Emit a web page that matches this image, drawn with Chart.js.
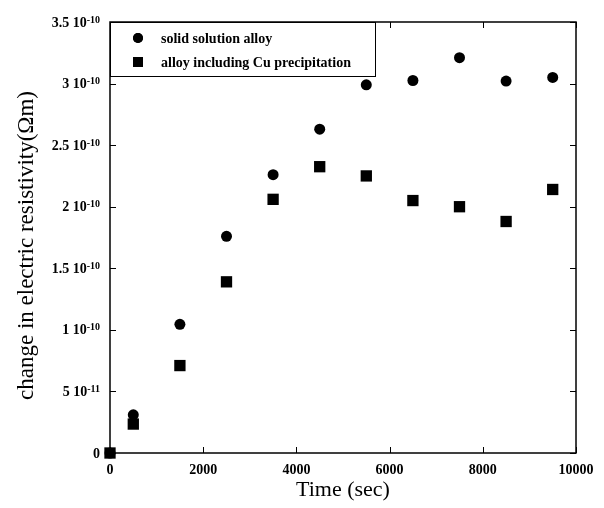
<!DOCTYPE html>
<html>
<head>
<meta charset="utf-8">
<script src="https://cdn.jsdelivr.net/npm/chart.js@4.4.1/dist/chart.umd.min.js"></script>
<style>
  html, body { margin: 0; padding: 0; background: #fff; }
</style>
</head>
<body>
<canvas id="resChart" width="604" height="508"></canvas>
<script>
// values
const timeSec = [0, 500, 1500, 2500, 3500, 4500, 5500, 6500, 7500, 8500, 9500];
const solidSolution = [0, 3.1e-11, 1.045e-10, 1.76e-10, 2.26e-10, 2.63e-10, 2.99e-10, 3.025e-10, 3.21e-10, 3.02e-10, 3.05e-10];
const cuPrecipitation = [0, 2.35e-11, 7.1e-11, 1.39e-10, 2.06e-10, 2.325e-10, 2.25e-10, 2.05e-10, 2.0e-10, 1.88e-10, 2.14e-10];
const seriesNames = ['solid solution alloy', 'alloy including Cu precipitation'];
const xTitle = 'Time (sec)';
const yTitle = 'change in electric resistivity(Ωm)';

const serif = '"Liberation Serif", "Times New Roman", serif';

// frame, inward ticks, y labels with exponents, y title, boxed legend
const framePlugin = {
    id: 'frame',
    beforeDatasetsDraw(chart) {
        const { ctx, chartArea: a, scales: { x, y } } = chart;
        ctx.save();
        ctx.strokeStyle = '#000';
        ctx.lineWidth = 1.5;
        ctx.strokeRect(a.left, a.top, a.right - a.left, a.bottom - a.top);
        ctx.lineWidth = 1;
        ctx.beginPath();
        x.ticks.forEach(t => {
            const px = Math.round(x.getPixelForValue(t.value)) + 0.5;
            ctx.moveTo(px, a.bottom); ctx.lineTo(px, a.bottom - 6);
            ctx.moveTo(px, a.top); ctx.lineTo(px, a.top + 6);
        });
        y.ticks.forEach(t => {
            const py = Math.round(y.getPixelForValue(t.value)) + 0.5;
            ctx.moveTo(a.left, py); ctx.lineTo(a.left + 6, py);
            ctx.moveTo(a.right, py); ctx.lineTo(a.right - 6, py);
        });
        ctx.stroke();
        ctx.restore();
    },
    afterDraw(chart) {
        const { ctx, chartArea: a, scales: { y } } = chart;
        ctx.save();
        ctx.fillStyle = '#000';
        const right = a.left - 10;
        y.ticks.forEach(t => {
            const py = y.getPixelForValue(t.value);
            ctx.textAlign = 'right';
            ctx.textBaseline = 'alphabetic';
            if (Math.abs(t.value) < 1e-20) {
                ctx.font = 'bold 14px ' + serif;
                ctx.fillText('0', right, py + 4.5);
                return;
            }
            const parts = t.value.toExponential(1).split('e');
            const mant = parts[0].replace(/\.0$/, '');
            const exp = String(Number(parts[1]));
            ctx.font = 'bold 10px ' + serif;
            const ew = ctx.measureText(exp).width;
            ctx.fillText(exp, right, py + 0.5);
            ctx.font = 'bold 14px ' + serif;
            ctx.fillText(mant + ' 10', right - ew, py + 4.5);
        });

        // y title
        ctx.save();
        ctx.translate(33, 245.5);
        ctx.rotate(-Math.PI / 2);
        ctx.font = '23px ' + serif;
        ctx.textAlign = 'center';
        ctx.textBaseline = 'alphabetic';
        ctx.fillText(yTitle, 0, 0);
        ctx.restore();

        // legend box
        const bw = 265, bh = 54;
        ctx.fillStyle = '#fff';
        ctx.fillRect(a.left, a.top, bw, bh);
        ctx.strokeStyle = '#000';
        ctx.lineWidth = 1;
        ctx.strokeRect(a.left + 0.5, a.top + 0.5, bw, bh);
        chart.data.datasets.forEach((ds, i) => {
            const cy = a.top + 16 + i * 24;
            ctx.fillStyle = '#000';
            Chart.helpers.drawPoint(ctx, {
                pointStyle: ds.pointStyle,
                radius: ds.pointStyle === 'rect' ? 7 : 5,
                rotation: 0,
                borderWidth: 0
            }, a.left + 28, cy);
            ctx.fill();
            ctx.font = 'bold 14px ' + serif;
            ctx.textAlign = 'left';
            ctx.textBaseline = 'middle';
            ctx.fillText(ds.label, a.left + 51, cy + 1);
        });
        ctx.restore();
    }
};

new Chart(document.getElementById('resChart'), {
    type: 'scatter',
    data: {
        datasets: [{
            label: seriesNames[0],
            data: timeSec.map((t, i) => ({ x: t, y: solidSolution[i] })),
            pointStyle: 'circle',
            pointRadius: 5.5,
            backgroundColor: '#000',
            borderColor: '#000',
            borderWidth: 0,
            clip: false
        }, {
            label: seriesNames[1],
            data: timeSec.map((t, i) => ({ x: t, y: cuPrecipitation[i] })),
            pointStyle: 'rect',
            pointRadius: 8,
            backgroundColor: '#000',
            borderColor: '#000',
            borderWidth: 0,
            clip: false
        }]
    },
    options: {
        responsive: false,
        animation: false,
        devicePixelRatio: 1,
        layout: { padding: { top: 22, right: 28, left: 0, bottom: 0 } },
        plugins: { legend: { display: false }, tooltip: { enabled: false } },
        scales: {
            x: {
                type: 'linear',
                min: 0,
                max: 10000,
                ticks: { stepSize: 2000, color: '#000', padding: 9, maxRotation: 0,
                         callback: v => String(v),
                         font: { family: serif, size: 14, weight: 'bold' } },
                grid: { display: false, drawTicks: false },
                border: { display: false },
                title: { display: true, text: xTitle, color: '#000',
                         font: { family: serif, size: 22, lineHeight: 1.2 },
                         padding: { top: 0, bottom: 5 } },
                afterFit(s) { s.height = 55; }
            },
            y: {
                type: 'linear',
                min: 0,
                max: 3.5e-10,
                ticks: { stepSize: 5e-11, display: false },
                grid: { display: false, drawTicks: false },
                border: { display: false },
                afterFit(s) { s.width = 110; }
            }
        }
    },
    plugins: [framePlugin]
});
</script>
</body>
</html>
